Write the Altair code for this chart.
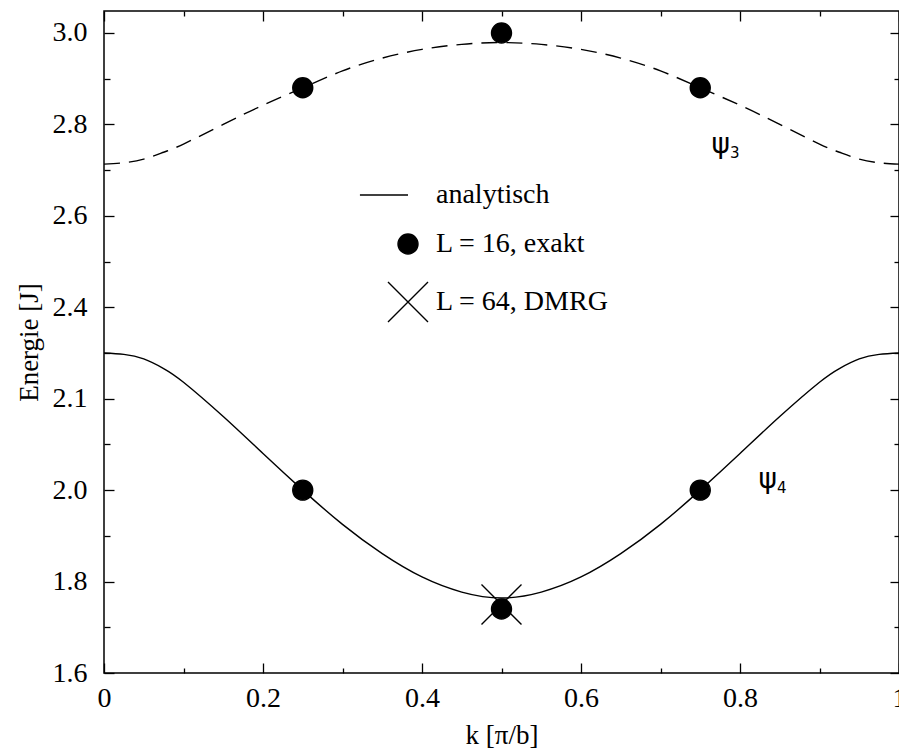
import altair as alt
import pandas as pd

# Analytic band energies (units of J) sampled along k in units of pi/b
k_grid = [0.000, 0.025, 0.050, 0.075, 0.10, 0.15, 0.20, 0.25, 0.30, 0.35, 0.40, 0.45, 0.50,
          0.55, 0.60, 0.65, 0.70, 0.75, 0.80, 0.85, 0.90, 0.925, 0.950, 0.975, 1.000]
psi4_energy = [2.300, 2.297, 2.287, 2.266, 2.236, 2.161, 2.080, 2.000, 1.925, 1.861, 1.810,
               1.777, 1.764, 1.777, 1.810, 1.861, 1.925, 2.000, 2.080, 2.161, 2.236, 2.266,
               2.287, 2.297, 2.300]
psi3_energy = [2.713, 2.716, 2.724, 2.739, 2.757, 2.800, 2.842, 2.880, 2.917, 2.945, 2.964,
               2.975, 2.979, 2.975, 2.964, 2.945, 2.917, 2.880, 2.842, 2.800, 2.757, 2.739,
               2.724, 2.716, 2.713]

# Exact diagonalisation, L = 16
exact_k = [0.25, 0.50, 0.75, 0.25, 0.50, 0.75]
exact_energy = [2.00, 1.74, 2.00, 2.88, 3.00, 2.88]

# DMRG, L = 64
dmrg_k = [0.50]
dmrg_energy = [1.75]

# Branch labels
branch_k = [0.7874, 0.8465]
branch_energy = [2.7375, 2.0046]
branch_sub = ["3", "4"]

# Axis ticks
y_major = [1.6, 1.8, 2.0, 2.2, 2.4, 2.6, 2.8, 3.0]
y_minor = [1.7, 1.9, 2.1, 2.3, 2.5, 2.7, 2.9]
x_major = [0.0, 0.2, 0.4, 0.6, 0.8, 1.0]
x_minor = [0.1, 0.3, 0.5, 0.7, 0.9]

legend_order = ["analytisch", "L = 16, exakt", "L = 64, DMRG"]
# scale order chosen so the symbol sizes step evenly: dot, line sample, cross
scale_order = ["L = 16, exakt", "analytisch", "L = 64, DMRG"]

W, H = 795, 662
SERIF = "Liberation Serif"
SYMBOL = "DejaVu Sans"

curves = pd.DataFrame({"k": k_grid, "psi4": psi4_energy, "psi3": psi3_energy})
points = pd.DataFrame({
    "k": dmrg_k + exact_k,
    "E": dmrg_energy + exact_energy,
    "serie": ["L = 64, DMRG"] * len(dmrg_k) + ["L = 16, exakt"] * len(exact_k),
})
branches = pd.DataFrame({"k": branch_k, "E": branch_energy, "sub": branch_sub})

x_scale = alt.Scale(domain=[0, 1], nice=False, zero=False)
y_scale = alt.Scale(domain=[1.6, 3.048], nice=False, zero=False)


def inward(orient, values, size):
    """Tick-only axis pulled onto the opposite frame edge so ticks point inward."""
    span = W if orient in ("left", "right") else H
    return alt.Axis(orient=orient, offset=-span, values=values, tickSize=size,
                    tickWidth=1.3, tickColor="black", labels=False, domain=False,
                    grid=False, title=None)


def tick_layer(x_axis, y_axis):
    return alt.Chart(curves).mark_point(opacity=0).encode(
        x=alt.X("k:Q", scale=x_scale, axis=x_axis),
        y=alt.Y("psi4:Q", scale=y_scale, axis=y_axis),
    )


x_main_axis = alt.Axis(orient="bottom", values=x_major, format=".1~f", ticks=False, tickSize=0,
                       domain=False, grid=False, labelPadding=11, labelFlush=False,
                       labelOverlap=False, labelFont=SERIF, labelFontSize=28,
                       labelColor="black", title="k [π/b]", titleFont=SERIF,
                       titleFontSize=27, titleFontWeight="normal", titleColor="black",
                       titlePadding=10)
y_main_axis = alt.Axis(orient="left", values=y_major,
                       labelExpr="abs(datum.value - 2.2) < 1e-6 ? '2.1' : format(datum.value, '.1f')",
                       ticks=False, tickSize=0, domain=False, grid=False, labelPadding=17,
                       labelFlush=False, labelOverlap=False, labelFont=SERIF,
                       labelFontSize=28, labelColor="black", title="Energie [J]",
                       titleFont=SERIF, titleFontSize=27, titleFontWeight="normal",
                       titleColor="black", titlePadding=9)

lower = alt.Chart(curves).mark_line(color="black", strokeWidth=1.4, interpolate="natural").encode(
    x=alt.X("k:Q", scale=x_scale, axis=x_main_axis),
    y=alt.Y("psi4:Q", scale=y_scale, axis=y_main_axis),
)
upper = alt.Chart(curves).mark_line(color="black", strokeWidth=1.4, strokeDash=[16, 9],
                                    interpolate="natural").encode(
    x=alt.X("k:Q", scale=x_scale, axis=None),
    y=alt.Y("psi3:Q", scale=y_scale, axis=None),
)

line_glyph = "M-3.04,0L0,0"
cross_glyph = "M-1,-1L1,1M-1,1L1,-1"
markers = alt.Chart(points).mark_point(fill="black", stroke="black", strokeWidth=1.4,
                                       opacity=1).encode(
    x=alt.X("k:Q", scale=x_scale, axis=None),
    y=alt.Y("E:Q", scale=y_scale, axis=None),
    shape=alt.Shape("serie:N",
                    scale=alt.Scale(domain=scale_order,
                                    range=["circle", line_glyph, cross_glyph]),
                    legend=alt.Legend(orient="none", legendX=283, legendY=167, title=None,
                                      values=legend_order, padding=0, labelFont=SERIF,
                                      labelFontSize=28, labelColor="black", labelOffset=7,
                                      labelLimit=400, rowPadding=21,
                                      symbolStrokeColor="black", symbolFillColor="black",
                                      symbolStrokeWidth=1.4, symbolOpacity=1)),
    size=alt.Size("serie:N",
                  scale=alt.Scale(domain=scale_order, range=[400, 1600])),
)

psi = alt.Chart(branches).mark_text(font=SYMBOL, fontSize=28, align="right",
                                    baseline="alphabetic", color="black").encode(
    x=alt.X("k:Q", scale=x_scale, axis=None),
    y=alt.Y("E:Q", scale=y_scale, axis=None),
    text=alt.value("ψ"),
)
psi_sub = alt.Chart(branches).mark_text(font=SYMBOL, fontSize=15, align="left",
                                        baseline="alphabetic", dy=5, color="black").encode(
    x=alt.X("k:Q", scale=x_scale, axis=None),
    y=alt.Y("E:Q", scale=y_scale, axis=None),
    text="sub:N",
)

chart = alt.layer(
    lower, upper,
    tick_layer(inward("top", x_major, 10), inward("right", y_major, 10)),
    tick_layer(inward("top", x_minor, 5), inward("right", y_minor, 6)),
    tick_layer(inward("bottom", x_major, 10), inward("left", y_major, 9)),
    tick_layer(inward("bottom", x_minor, 5), inward("left", y_minor, 5)),
    markers, psi, psi_sub,
).resolve_axis(
    x="independent", y="independent"
).properties(
    width=W, height=H,
    autosize=alt.AutoSizeParams(type="none"),
    padding={"left": 104, "top": 11, "right": 0, "bottom": 78},
    background="white",
).configure(
    font=SERIF
).configure_axis(
    labelFont=SERIF, titleFont=SERIF, labelColor="black", titleColor="black"
).configure_legend(
    labelFont=SERIF
).configure_view(
    stroke="black", strokeWidth=1.5
)

chart.save("out.html", embed_options={"renderer": "svg", "actions": False})
